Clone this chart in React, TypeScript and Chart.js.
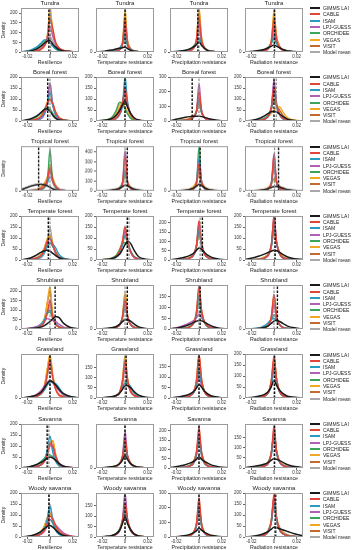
import React, { useEffect, useRef } from "react";
import { Chart, registerables } from "chart.js";
Chart.register(...registerables);

const FONT = "'Liberation Sans', Arial, sans-serif";

// x positions of the density estimates
const densityX = [-0.026, -0.018, -0.012, -0.008, -0.005, -0.0025, 0, 0.0025, 0.005, 0.008, 0.012, 0.018, 0.026];
const xTickValues = [-0.02, 0, 0.02];

const seriesNames = ["GIMMS LAI", "CABLE", "ISAM", "LPJ-GUESS", "ORCHIDEE", "VEGAS", "VISIT", "Model mean"];
const seriesColors = ["#1a1a1a", "#e5443b", "#2a9cc2", "#b45fb6", "#3ba55b", "#f3a823", "#c4692f", "#a9a9a9"];

const biomes = ["Tundra", "Boreal forest", "Tropical forest", "Temperate forest", "Shrubland", "Grassland", "Savanna", "Woody savanna"];
const metrics = ["Resilience", "Temperature resistance", "Precipitation resistance", "Radiation resistance"];

const yMax = [
  [225, 410, 310, 310],
  [200, 200, 300, 200],
  [305, 460, 410, 410],
  [200, 200, 235, 200],
  [232, 305, 205, 305],
  [152, 215, 210, 200],
  [200, 305, 236, 215],
  [200, 210, 300, 200],
];
const yStep = [
  [50, 100, 100, 100],
  [50, 50, 100, 50],
  [100, 100, 100, 100],
  [50, 50, 50, 50],
  [50, 100, 50, 100],
  [50, 50, 50, 50],
  [50, 100, 50, 50],
  [50, 50, 100, 50],
];
const gimmsMean = [
  [-0.001, 0, -0.001, 0.0005],
  [-0.002, 0, -0.006, 0],
  [-0.01, 0.002, 0.001, 0.004],
  [-0.0015, 0.002, 0.003, 0.001],
  [0.0045, 0.002, 0.001, 0.003],
  [0, 0.001, 0, 0.0005],
  [-0.0025, 0, 0, 0.0005],
  [-0.001, 0, 0, 0.001],
];
const modelMean = [
  [0.0005, 0.0005, 0, 0],
  [0, 0, 0, 0.002],
  [0, 0, 0.0005, 0.0005],
  [0, 0.0035, 0.001, 0.0005],
  [0, 0, 0, 0],
  [0, 0, 0, 0],
  [-0.001, 0, 0, 0],
  [-0.0005, 0, 0, 0.002],
];

// series order: GIMMS LAI, CABLE, ISAM, LPJ-GUESS, ORCHIDEE, VEGAS, VISIT, Model mean
const tundraResilience = [
  [0, 4, 15, 30, 45, 55, 58, 40, 25, 12, 5, 2, 0],
  [0, 2, 6, 14, 30, 60, 170, 120, 50, 20, 8, 3, 0],
  [0, 8, 25, 45, 62, 60, 50, 30, 18, 8, 3, 1, 0],
  [0, 2, 6, 15, 35, 70, 130, 80, 40, 18, 7, 2, 0],
  [0, 6, 20, 40, 55, 55, 48, 30, 15, 6, 2, 1, 0],
  [0, 2, 5, 12, 28, 70, 220, 110, 45, 18, 6, 2, 0],
  [0, 2, 6, 14, 32, 80, 200, 100, 45, 20, 8, 3, 0],
  [0, 3, 10, 22, 40, 60, 80, 55, 30, 12, 5, 2, 0],
];
const tundraTemperature = [
  [0, 8, 18, 28, 35, 40, 45, 30, 15, 6, 2, 1, 0],
  [0, 1, 3, 8, 18, 50, 300, 70, 20, 8, 3, 1, 0],
  [0, 2, 6, 15, 30, 70, 150, 60, 25, 10, 4, 1, 0],
  [0, 1, 4, 10, 22, 60, 250, 60, 22, 8, 3, 1, 0],
  [0, 2, 8, 18, 35, 70, 120, 50, 20, 8, 3, 1, 0],
  [0, 1, 3, 8, 20, 60, 380, 80, 25, 10, 4, 1, 0],
  [0, 1, 3, 10, 25, 70, 330, 90, 30, 12, 4, 1, 0],
  [0, 2, 6, 14, 30, 70, 200, 60, 20, 8, 3, 1, 0],
];
const tundraPrecipitation = [
  [0, 5, 12, 22, 35, 50, 70, 45, 25, 10, 4, 1, 0],
  [0, 1, 4, 10, 25, 70, 250, 70, 25, 10, 4, 1, 0],
  [0, 3, 8, 18, 35, 60, 100, 55, 25, 10, 4, 1, 0],
  [0, 1, 4, 10, 25, 65, 200, 65, 25, 10, 4, 1, 0],
  [0, 3, 10, 22, 40, 65, 90, 55, 28, 12, 4, 1, 0],
  [0, 1, 3, 8, 22, 70, 300, 80, 25, 10, 4, 1, 0],
  [0, 1, 4, 10, 28, 80, 280, 90, 30, 12, 4, 1, 0],
  [0, 2, 6, 15, 30, 60, 150, 60, 25, 10, 4, 1, 0],
];
const tundraRadiation = [
  [0, 5, 12, 20, 30, 40, 50, 40, 30, 18, 8, 3, 0],
  [0, 1, 4, 10, 25, 70, 230, 80, 30, 12, 5, 2, 0],
  [0, 2, 6, 15, 30, 60, 110, 60, 30, 12, 5, 2, 0],
  [0, 1, 4, 10, 25, 60, 180, 70, 30, 12, 5, 2, 0],
  [0, 3, 8, 18, 35, 60, 90, 60, 30, 14, 6, 2, 0],
  [0, 1, 3, 8, 22, 70, 290, 90, 35, 15, 6, 2, 0],
  [0, 1, 4, 10, 25, 70, 250, 100, 40, 16, 6, 2, 0],
  [0, 2, 6, 14, 28, 60, 150, 70, 30, 12, 5, 2, 0],
];

const borealResilience = [
  [0, 8, 22, 38, 52, 55, 45, 25, 12, 5, 2, 1, 0],
  [0, 2, 8, 20, 45, 80, 100, 80, 40, 15, 5, 1, 0],
  [0, 2, 6, 15, 35, 70, 130, 70, 30, 10, 4, 1, 0],
  [0, 1, 4, 10, 28, 70, 170, 70, 25, 8, 3, 1, 0],
  [0, 6, 18, 35, 55, 65, 55, 35, 15, 5, 2, 1, 0],
  [0, 2, 8, 22, 50, 85, 105, 80, 40, 15, 5, 1, 0],
  [0, 2, 8, 22, 50, 80, 95, 75, 40, 15, 5, 1, 0],
  [0, 2, 6, 15, 35, 75, 175, 75, 30, 10, 4, 1, 0],
];
const borealTemperature = [
  [0, 3, 10, 25, 45, 70, 90, 60, 35, 15, 5, 1, 0],
  [0, 1, 4, 12, 30, 70, 150, 70, 30, 10, 3, 1, 0],
  [0, 1, 3, 10, 25, 60, 195, 80, 30, 10, 3, 1, 0],
  [0, 1, 4, 12, 30, 70, 140, 70, 30, 10, 3, 1, 0],
  [0, 4, 15, 45, 85, 80, 55, 30, 12, 4, 1, 0, 0],
  [0, 3, 12, 35, 75, 80, 65, 40, 18, 6, 2, 0, 0],
  [0, 2, 8, 25, 55, 85, 120, 70, 30, 10, 3, 1, 0],
  [0, 2, 6, 18, 45, 80, 130, 65, 25, 8, 3, 1, 0],
];
const borealPrecipitation = [
  [0, 15, 25, 30, 32, 33, 32, 30, 25, 18, 10, 4, 0],
  [0, 2, 6, 12, 25, 60, 200, 60, 20, 8, 3, 1, 0],
  [0, 2, 6, 12, 25, 55, 150, 55, 20, 8, 3, 1, 0],
  [0, 1, 4, 10, 22, 55, 250, 60, 20, 8, 3, 1, 0],
  [0, 3, 8, 15, 30, 55, 120, 50, 20, 8, 3, 1, 0],
  [0, 3, 10, 20, 35, 60, 100, 55, 25, 10, 4, 1, 0],
  [0, 2, 6, 14, 28, 60, 160, 60, 22, 8, 3, 1, 0],
  [0, 2, 6, 14, 28, 60, 140, 55, 22, 8, 3, 1, 0],
];
const borealRadiation = [
  [0, 5, 14, 25, 35, 42, 45, 40, 32, 20, 8, 2, 0],
  [0, 1, 4, 10, 25, 60, 150, 70, 30, 12, 4, 1, 0],
  [0, 1, 4, 10, 22, 55, 130, 65, 28, 10, 4, 1, 0],
  [0, 1, 3, 8, 20, 55, 185, 70, 28, 10, 4, 1, 0],
  [0, 2, 6, 14, 28, 55, 100, 60, 30, 12, 4, 1, 0],
  [0, 1, 4, 10, 20, 35, 50, 60, 65, 40, 15, 4, 0],
  [0, 1, 5, 12, 25, 50, 90, 70, 50, 25, 8, 2, 0],
  [0, 1, 4, 10, 24, 58, 170, 70, 30, 12, 4, 1, 0],
];

const tropicalResilience = [
  [5, 30, 42, 45, 42, 35, 25, 14, 7, 3, 1, 0, 0],
  [0, 2, 6, 14, 30, 70, 160, 70, 30, 10, 3, 1, 0],
  [0, 2, 6, 12, 25, 50, 95, 65, 30, 12, 4, 1, 0],
  [0, 1, 4, 10, 25, 60, 140, 60, 25, 8, 3, 1, 0],
  [0, 1, 3, 8, 20, 60, 280, 60, 20, 6, 2, 1, 0],
  [0, 2, 8, 20, 45, 90, 180, 90, 40, 12, 4, 1, 0],
  [0, 3, 10, 25, 50, 85, 150, 80, 35, 12, 4, 1, 0],
  [0, 2, 6, 15, 35, 70, 130, 60, 25, 8, 3, 1, 0],
];
const tropicalTemperature = [
  [0, 3, 8, 15, 25, 40, 60, 50, 35, 18, 8, 3, 0],
  [0, 1, 3, 8, 18, 50, 350, 80, 25, 10, 4, 1, 0],
  [0, 1, 4, 10, 25, 70, 200, 70, 25, 10, 4, 1, 0],
  [0, 1, 3, 8, 18, 60, 410, 70, 22, 8, 3, 1, 0],
  [0, 1, 4, 10, 25, 70, 180, 70, 28, 10, 4, 1, 0],
  [0, 2, 6, 14, 30, 70, 140, 80, 35, 14, 5, 2, 0],
  [0, 2, 6, 14, 30, 70, 150, 80, 35, 14, 5, 2, 0],
  [0, 1, 4, 10, 24, 65, 220, 70, 25, 10, 4, 1, 0],
];
const tropicalPrecipitation = [
  [0, 3, 8, 15, 25, 40, 60, 45, 28, 14, 6, 2, 0],
  [0, 1, 3, 8, 20, 55, 250, 70, 25, 10, 4, 1, 0],
  [0, 1, 3, 8, 20, 60, 300, 70, 25, 10, 4, 1, 0],
  [0, 1, 3, 8, 20, 55, 220, 65, 22, 8, 3, 1, 0],
  [0, 1, 2, 6, 15, 50, 400, 60, 20, 8, 3, 1, 0],
  [0, 2, 6, 15, 35, 80, 150, 80, 35, 14, 5, 2, 0],
  [0, 2, 6, 15, 35, 75, 140, 75, 35, 14, 5, 2, 0],
  [0, 1, 4, 10, 25, 65, 200, 65, 25, 10, 4, 1, 0],
];
const tropicalRadiation = [
  [0, 2, 6, 12, 20, 30, 40, 40, 35, 25, 12, 5, 0],
  [0, 1, 3, 8, 20, 60, 320, 70, 25, 10, 4, 1, 0],
  [0, 1, 3, 8, 20, 55, 250, 65, 25, 10, 4, 1, 0],
  [0, 1, 3, 8, 18, 55, 340, 65, 22, 8, 3, 1, 0],
  [0, 1, 3, 8, 20, 60, 260, 70, 25, 10, 4, 1, 0],
  [0, 2, 6, 14, 30, 60, 100, 70, 40, 20, 8, 3, 0],
  [0, 2, 6, 14, 30, 65, 110, 75, 40, 20, 8, 3, 0],
  [0, 1, 4, 10, 22, 55, 200, 65, 25, 10, 4, 1, 0],
];

const temperateResilience = [
  [0, 8, 22, 35, 42, 45, 40, 30, 20, 10, 4, 1, 0],
  [0, 2, 8, 20, 45, 85, 100, 70, 35, 12, 4, 1, 0],
  [0, 2, 6, 15, 35, 60, 75, 70, 55, 25, 8, 2, 0],
  [0, 2, 6, 16, 40, 75, 95, 65, 35, 12, 4, 1, 0],
  [0, 2, 8, 18, 40, 65, 80, 60, 35, 12, 4, 1, 0],
  [0, 3, 10, 25, 55, 95, 115, 75, 35, 12, 4, 1, 0],
  [0, 3, 10, 25, 55, 90, 110, 70, 35, 12, 4, 1, 0],
  [0, 1, 4, 10, 28, 70, 150, 70, 25, 8, 3, 1, 0],
];
const temperateTemperature = [
  [0, 2, 6, 14, 25, 45, 70, 85, 75, 45, 15, 4, 0],
  [0, 1, 5, 15, 35, 80, 150, 80, 35, 12, 4, 1, 0],
  [0, 1, 4, 12, 30, 65, 110, 80, 40, 15, 5, 1, 0],
  [0, 1, 4, 12, 30, 70, 130, 80, 35, 12, 4, 1, 0],
  [0, 2, 8, 20, 45, 70, 80, 65, 40, 15, 5, 1, 0],
  [0, 2, 8, 20, 45, 80, 100, 75, 40, 15, 5, 1, 0],
  [0, 2, 6, 16, 38, 75, 115, 80, 40, 15, 5, 1, 0],
  [0, 1, 4, 12, 30, 70, 155, 80, 35, 12, 4, 1, 0],
];
const temperatePrecipitation = [
  [0, 8, 16, 25, 35, 50, 65, 55, 40, 25, 12, 4, 0],
  [0, 1, 4, 10, 25, 70, 210, 80, 30, 12, 4, 1, 0],
  [0, 1, 4, 10, 24, 60, 160, 75, 30, 12, 4, 1, 0],
  [0, 1, 4, 10, 24, 65, 190, 75, 30, 12, 4, 1, 0],
  [0, 1, 4, 12, 28, 65, 150, 70, 30, 12, 4, 1, 0],
  [0, 2, 6, 14, 30, 65, 130, 75, 35, 14, 5, 2, 0],
  [0, 2, 6, 14, 32, 70, 140, 80, 35, 14, 5, 2, 0],
  [0, 1, 4, 10, 26, 65, 170, 75, 30, 12, 4, 1, 0],
];
const temperateRadiation = [
  [2, 10, 20, 28, 35, 40, 45, 42, 35, 25, 14, 6, 2],
  [0, 1, 4, 10, 24, 65, 200, 75, 28, 10, 4, 1, 0],
  [0, 1, 4, 10, 22, 55, 150, 70, 28, 10, 4, 1, 0],
  [0, 1, 3, 9, 20, 60, 195, 70, 26, 10, 4, 1, 0],
  [0, 1, 4, 10, 24, 60, 160, 70, 28, 10, 4, 1, 0],
  [0, 2, 6, 14, 28, 60, 120, 70, 35, 16, 6, 2, 0],
  [0, 2, 6, 14, 28, 62, 130, 75, 35, 16, 6, 2, 0],
  [0, 1, 4, 10, 24, 62, 180, 72, 28, 10, 4, 1, 0],
];

const shrublandResilience = [
  [0, 2, 5, 10, 18, 28, 40, 55, 65, 60, 30, 8, 0],
  [0, 2, 6, 15, 35, 80, 150, 60, 25, 10, 4, 1, 0],
  [0, 2, 8, 20, 45, 85, 100, 60, 30, 12, 4, 1, 0],
  [0, 4, 12, 25, 40, 55, 50, 45, 40, 25, 10, 3, 0],
  [0, 3, 10, 25, 50, 80, 90, 55, 28, 12, 4, 1, 0],
  [0, 2, 8, 20, 50, 140, 220, 70, 25, 10, 4, 1, 0],
  [0, 2, 8, 20, 50, 130, 200, 70, 28, 10, 4, 1, 0],
  [0, 2, 6, 16, 40, 90, 130, 60, 25, 10, 4, 1, 0],
];
const shrublandTemperature = [
  [0, 3, 8, 16, 30, 50, 62, 65, 55, 35, 15, 4, 0],
  [0, 1, 4, 10, 25, 70, 200, 80, 30, 12, 4, 1, 0],
  [0, 1, 5, 12, 30, 70, 140, 75, 30, 12, 4, 1, 0],
  [0, 1, 4, 10, 25, 70, 190, 75, 28, 10, 4, 1, 0],
  [0, 2, 6, 15, 32, 55, 70, 60, 35, 15, 5, 1, 0],
  [0, 1, 4, 10, 25, 75, 250, 85, 30, 12, 4, 1, 0],
  [0, 1, 4, 10, 26, 75, 240, 85, 30, 12, 4, 1, 0],
  [0, 1, 4, 10, 25, 70, 180, 75, 28, 10, 4, 1, 0],
];
const shrublandPrecipitation = [
  [0, 6, 14, 22, 30, 36, 40, 38, 32, 22, 12, 4, 0],
  [0, 1, 4, 10, 25, 70, 200, 80, 30, 12, 4, 1, 0],
  [0, 1, 4, 10, 24, 60, 150, 70, 28, 10, 4, 1, 0],
  [0, 8, 20, 30, 38, 50, 70, 50, 30, 14, 5, 1, 0],
  [0, 1, 5, 12, 28, 60, 120, 65, 28, 10, 4, 1, 0],
  [0, 1, 4, 10, 25, 65, 170, 75, 28, 10, 4, 1, 0],
  [0, 1, 4, 11, 26, 70, 180, 78, 30, 12, 4, 1, 0],
  [0, 1, 4, 10, 24, 60, 150, 70, 28, 10, 4, 1, 0],
];
const shrublandRadiation = [
  [0, 2, 6, 12, 22, 38, 55, 60, 52, 38, 20, 8, 0],
  [0, 1, 4, 10, 25, 80, 240, 80, 28, 10, 4, 1, 0],
  [0, 3, 10, 25, 45, 65, 75, 55, 30, 12, 4, 1, 0],
  [0, 1, 4, 10, 25, 70, 170, 70, 28, 10, 4, 1, 0],
  [0, 2, 6, 15, 32, 60, 100, 60, 28, 10, 4, 1, 0],
  [0, 1, 4, 10, 25, 75, 230, 80, 28, 10, 4, 1, 0],
  [0, 1, 4, 10, 26, 78, 220, 80, 30, 12, 4, 1, 0],
  [0, 1, 4, 10, 25, 68, 170, 70, 28, 10, 4, 1, 0],
];

const grasslandResilience = [
  [0, 4, 10, 20, 35, 50, 60, 55, 45, 30, 15, 5, 0],
  [0, 2, 6, 15, 35, 80, 130, 70, 30, 10, 4, 1, 0],
  [0, 2, 6, 14, 28, 45, 55, 55, 50, 35, 14, 4, 0],
  [0, 4, 12, 25, 42, 55, 60, 52, 40, 25, 10, 3, 0],
  [0, 2, 6, 14, 28, 45, 60, 55, 45, 28, 10, 3, 0],
  [0, 2, 6, 16, 40, 100, 150, 80, 30, 10, 4, 1, 0],
  [0, 2, 6, 16, 40, 95, 140, 75, 30, 10, 4, 1, 0],
  [0, 2, 6, 14, 32, 70, 115, 65, 30, 12, 4, 1, 0],
];
const grasslandTemperature = [
  [0, 2, 6, 12, 22, 40, 60, 60, 50, 32, 14, 4, 0],
  [0, 1, 4, 10, 25, 70, 180, 80, 30, 12, 4, 1, 0],
  [0, 1, 4, 10, 22, 45, 70, 70, 55, 30, 10, 3, 0],
  [0, 1, 4, 10, 24, 60, 150, 75, 35, 14, 5, 1, 0],
  [0, 1, 4, 10, 22, 48, 75, 70, 50, 25, 8, 2, 0],
  [0, 1, 4, 10, 25, 75, 205, 85, 30, 12, 4, 1, 0],
  [0, 1, 4, 10, 26, 75, 195, 85, 32, 12, 4, 1, 0],
  [0, 1, 4, 10, 24, 62, 150, 75, 32, 12, 4, 1, 0],
];
const grasslandPrecipitation = [
  [0, 5, 12, 20, 30, 45, 65, 50, 32, 18, 8, 3, 0],
  [0, 1, 4, 10, 25, 75, 210, 80, 28, 10, 4, 1, 0],
  [0, 1, 4, 10, 22, 55, 130, 65, 28, 10, 4, 1, 0],
  [0, 4, 10, 18, 30, 55, 100, 55, 28, 12, 5, 2, 0],
  [0, 1, 4, 10, 24, 60, 140, 70, 30, 12, 4, 1, 0],
  [0, 1, 4, 10, 25, 70, 200, 80, 28, 10, 4, 1, 0],
  [0, 1, 4, 11, 26, 72, 190, 80, 30, 12, 4, 1, 0],
  [0, 1, 4, 10, 24, 62, 150, 70, 28, 10, 4, 1, 0],
];
const grasslandRadiation = [
  [0, 4, 10, 18, 30, 50, 80, 55, 35, 20, 8, 3, 0],
  [0, 1, 4, 10, 25, 75, 190, 80, 28, 10, 4, 1, 0],
  [0, 1, 4, 10, 22, 55, 130, 65, 28, 10, 4, 1, 0],
  [0, 2, 6, 12, 26, 60, 140, 65, 28, 12, 5, 2, 0],
  [0, 1, 4, 10, 24, 60, 150, 70, 28, 10, 4, 1, 0],
  [0, 1, 4, 10, 25, 72, 180, 80, 28, 10, 4, 1, 0],
  [0, 1, 4, 11, 26, 75, 175, 80, 30, 12, 4, 1, 0],
  [0, 1, 4, 10, 24, 62, 155, 70, 28, 10, 4, 1, 0],
];

const savannaResilience = [
  [0, 6, 15, 25, 35, 45, 50, 45, 35, 20, 8, 2, 0],
  [0, 2, 6, 14, 30, 60, 110, 100, 50, 18, 6, 2, 0],
  [0, 2, 6, 15, 35, 80, 145, 70, 30, 10, 4, 1, 0],
  [0, 2, 6, 14, 30, 60, 100, 95, 55, 22, 8, 2, 0],
  [0, 5, 15, 30, 45, 58, 60, 50, 35, 15, 5, 1, 0],
  [0, 2, 6, 14, 30, 60, 115, 125, 60, 20, 6, 2, 0],
  [0, 2, 6, 14, 30, 60, 110, 120, 60, 22, 7, 2, 0],
  [0, 2, 6, 14, 32, 70, 120, 80, 35, 12, 4, 1, 0],
];
const savannaTemperature = [
  [0, 3, 8, 15, 28, 50, 85, 55, 30, 15, 6, 2, 0],
  [0, 1, 5, 12, 28, 70, 200, 75, 28, 12, 5, 2, 0],
  [0, 1, 5, 12, 28, 65, 170, 70, 28, 12, 5, 2, 0],
  [0, 1, 4, 10, 25, 70, 250, 75, 28, 12, 5, 2, 0],
  [0, 2, 6, 14, 30, 60, 150, 70, 30, 12, 5, 2, 0],
  [0, 2, 6, 14, 32, 70, 130, 75, 35, 15, 6, 2, 0],
  [0, 2, 6, 14, 32, 72, 140, 78, 35, 15, 6, 2, 0],
  [0, 1, 5, 12, 28, 65, 170, 70, 28, 12, 5, 2, 0],
];
const savannaPrecipitation = [
  [2, 10, 18, 26, 35, 45, 60, 45, 35, 25, 14, 6, 2],
  [0, 1, 4, 10, 25, 75, 220, 75, 25, 10, 4, 1, 0],
  [0, 1, 4, 10, 22, 60, 150, 60, 22, 10, 4, 1, 0],
  [0, 1, 4, 10, 24, 65, 180, 65, 24, 10, 4, 1, 0],
  [0, 2, 6, 14, 30, 70, 160, 70, 28, 12, 5, 2, 0],
  [0, 2, 6, 14, 32, 75, 160, 75, 30, 13, 5, 2, 0],
  [0, 2, 6, 14, 32, 78, 170, 78, 30, 13, 5, 2, 0],
  [0, 1, 4, 11, 26, 68, 175, 68, 26, 11, 4, 1, 0],
];
const savannaRadiation = [
  [2, 8, 14, 20, 28, 38, 45, 42, 36, 28, 16, 7, 2],
  [0, 1, 4, 10, 24, 70, 205, 75, 28, 12, 5, 2, 0],
  [0, 1, 4, 10, 22, 60, 150, 65, 28, 12, 5, 2, 0],
  [0, 1, 4, 10, 24, 65, 180, 70, 28, 12, 5, 2, 0],
  [0, 2, 6, 14, 30, 68, 160, 70, 30, 14, 6, 2, 0],
  [0, 2, 6, 14, 30, 70, 165, 75, 32, 15, 6, 2, 0],
  [0, 2, 6, 14, 30, 72, 170, 78, 34, 16, 6, 2, 0],
  [0, 1, 4, 11, 26, 66, 175, 70, 28, 12, 5, 2, 0],
];

const woodySavannaResilience = [
  [0, 5, 14, 25, 38, 48, 52, 45, 32, 18, 7, 2, 0],
  [0, 2, 6, 14, 30, 60, 95, 80, 50, 28, 12, 4, 0],
  [0, 2, 6, 15, 35, 80, 140, 70, 30, 12, 4, 1, 0],
  [0, 2, 5, 12, 25, 50, 80, 70, 55, 38, 18, 5, 0],
  [0, 4, 12, 25, 40, 60, 80, 60, 35, 15, 5, 1, 0],
  [0, 3, 10, 25, 50, 85, 105, 80, 45, 18, 6, 2, 0],
  [0, 3, 10, 24, 48, 85, 110, 85, 50, 22, 8, 2, 0],
  [0, 2, 6, 15, 35, 80, 150, 75, 35, 14, 5, 1, 0],
];
const woodySavannaTemperature = [
  [0, 2, 6, 15, 30, 60, 95, 60, 35, 15, 5, 1, 0],
  [0, 1, 4, 12, 28, 70, 160, 75, 30, 12, 4, 1, 0],
  [0, 1, 5, 14, 30, 65, 130, 70, 30, 12, 4, 1, 0],
  [0, 1, 4, 10, 25, 70, 210, 75, 30, 12, 4, 1, 0],
  [0, 2, 6, 16, 35, 70, 115, 65, 30, 12, 4, 1, 0],
  [0, 2, 6, 15, 35, 75, 135, 75, 35, 14, 5, 1, 0],
  [0, 2, 6, 15, 35, 75, 140, 78, 38, 15, 5, 1, 0],
  [0, 1, 5, 13, 30, 70, 150, 70, 30, 12, 4, 1, 0],
];
const woodySavannaPrecipitation = [
  [0, 4, 10, 18, 28, 40, 60, 45, 32, 20, 10, 4, 0],
  [0, 1, 4, 10, 26, 80, 270, 80, 28, 10, 4, 1, 0],
  [0, 1, 4, 10, 24, 65, 200, 65, 24, 10, 4, 1, 0],
  [0, 2, 6, 12, 26, 65, 200, 65, 25, 10, 4, 1, 0],
  [0, 2, 6, 14, 30, 70, 180, 70, 28, 12, 5, 2, 0],
  [0, 2, 6, 14, 32, 78, 210, 78, 30, 13, 5, 2, 0],
  [0, 2, 6, 14, 32, 80, 220, 80, 30, 13, 5, 2, 0],
  [0, 1, 4, 11, 28, 72, 210, 72, 26, 11, 4, 1, 0],
];
const woodySavannaRadiation = [
  [0, 4, 10, 18, 26, 35, 45, 42, 38, 32, 25, 15, 4],
  [0, 1, 4, 10, 25, 70, 195, 80, 32, 14, 6, 2, 0],
  [0, 1, 4, 10, 22, 60, 150, 70, 30, 14, 6, 2, 0],
  [0, 1, 4, 10, 24, 65, 180, 75, 32, 14, 6, 2, 0],
  [0, 2, 6, 14, 30, 65, 150, 72, 34, 16, 7, 2, 0],
  [0, 2, 6, 14, 30, 70, 170, 80, 40, 20, 8, 3, 0],
  [0, 2, 6, 14, 30, 72, 175, 85, 42, 22, 9, 3, 0],
  [0, 1, 4, 11, 26, 66, 170, 75, 32, 14, 6, 2, 0],
];

const panelData = [
  [tundraResilience, tundraTemperature, tundraPrecipitation, tundraRadiation],
  [borealResilience, borealTemperature, borealPrecipitation, borealRadiation],
  [tropicalResilience, tropicalTemperature, tropicalPrecipitation, tropicalRadiation],
  [temperateResilience, temperateTemperature, temperatePrecipitation, temperateRadiation],
  [shrublandResilience, shrublandTemperature, shrublandPrecipitation, shrublandRadiation],
  [grasslandResilience, grasslandTemperature, grasslandPrecipitation, grasslandRadiation],
  [savannaResilience, savannaTemperature, savannaPrecipitation, savannaRadiation],
  [woodySavannaResilience, woodySavannaTemperature, woodySavannaPrecipitation, woodySavannaRadiation],
];

// layout
const FRAME_LEFT = [21, 96, 170, 245];
const FRAME_W = 58;
const FRAME_H = 44;
const TITLE_H = 8.2;
const XAXIS_H = 14;
const RIGHT_PAD = 6;
const frameTop = (r: number) => 8 + r * 69.3;

const framePlugin = {
  id: "frameBox",
  afterDraw(chart: any) {
    const { ctx, chartArea } = chart;
    ctx.save();
    ctx.strokeStyle = "#9b9b9b";
    ctx.lineWidth = 1;
    ctx.strokeRect(
      Math.round(chartArea.left) + 0.5,
      Math.round(chartArea.top) + 0.5,
      Math.round(chartArea.right - chartArea.left) - 1,
      Math.round(chartArea.bottom - chartArea.top) - 1
    );
    ctx.restore();
  },
};

function Panel({ row, col }: { row: number; col: number }) {
  const ref = useRef<HTMLCanvasElement>(null);
  const yW = col === 0 ? 21 : 15;
  const width = yW + FRAME_W + RIGHT_PAD;
  const height = TITLE_H + FRAME_H + XAXIS_H;
  const left = FRAME_LEFT[col] - yW;
  const top = frameTop(row) - TITLE_H;

  useEffect(() => {
    if (!ref.current) return;
    const curves = panelData[row][col];
    const ymax = yMax[row][col];
    const step = yStep[row][col];
    const datasets: any[] = [];
    datasets.push({
      label: "GIMMS mean",
      data: [
        { x: gimmsMean[row][col], y: 0 },
        { x: gimmsMean[row][col], y: ymax },
      ],
      borderColor: "#111111",
      borderWidth: 1.4,
      borderDash: [2.5, 1.5],
      pointRadius: 0,
      order: 0,
    });
    datasets.push({
      label: "Model mean line",
      data: [
        { x: modelMean[row][col], y: 0 },
        { x: modelMean[row][col], y: ymax },
      ],
      borderColor: "#8c8c8c",
      borderWidth: 1.2,
      borderDash: [2.5, 1.5],
      pointRadius: 0,
      order: 0,
    });
    curves.forEach((vals: number[], i: number) => {
      datasets.push({
        label: seriesNames[i],
        data: densityX.map((x, j) => ({ x, y: vals[j] })),
        borderColor: seriesColors[i],
        borderWidth: i === 0 ? 1.5 : 1.4,
        pointRadius: 0,
        tension: 0.35,
        fill: false,
        order: 1,
      });
    });

    const chart = new Chart(ref.current, {
      type: "line",
      data: { datasets },
      plugins: [framePlugin],
      options: {
        animation: false,
        responsive: false,
        events: [],
        layout: { padding: { top: 0, right: RIGHT_PAD, left: 0, bottom: 0 } },
        plugins: {
          legend: { display: false },
          tooltip: { enabled: false },
          title: {
            display: true,
            fullSize: false,
            text: biomes[row],
            color: "#222",
            font: { size: 6, family: FONT, weight: "normal", lineHeight: 1.2 },
            padding: { top: 0, bottom: 1 },
          },
        },
        scales: {
          x: {
            type: "linear",
            min: -0.0255,
            max: 0.0255,
            afterBuildTicks: (s: any) => {
              s.ticks = xTickValues.map((v) => ({ value: v }));
            },
            afterFit: (s: any) => {
              s.height = XAXIS_H;
            },
            ticks: {
              autoSkip: false,
              maxRotation: 0,
              padding: 0.5,
              color: "#333",
              font: { size: 4.5, family: FONT },
              callback: (v: any) => (Number(v) === 0 ? "0" : Number(v).toFixed(2)),
            },
            grid: { display: true, drawOnChartArea: false, drawTicks: true, tickLength: 2, color: "#666" },
            border: { display: false },
            title: {
              display: true,
              text: metrics[col],
              color: "#222",
              font: { size: 5.3, family: FONT, lineHeight: 1.2 },
              padding: 0,
            },
          },
          y: {
            type: "linear",
            min: 0,
            max: ymax,
            afterBuildTicks: (s: any) => {
              s.ticks = s.ticks.filter((t: any) => Math.abs(t.value / step - Math.round(t.value / step)) < 1e-6);
            },
            afterFit: (s: any) => {
              s.width = yW;
            },
            ticks: {
              stepSize: step,
              padding: 1.5,
              color: "#333",
              font: { size: 4.5, family: FONT },
            },
            grid: { display: true, drawOnChartArea: false, drawTicks: true, tickLength: 2, color: "#666" },
            border: { display: false },
            title: {
              display: col === 0,
              text: "Density",
              color: "#222",
              font: { size: 5, family: FONT, lineHeight: 1.2 },
              padding: { top: 1, bottom: 0 },
            },
          },
        },
      } as any,
    });
    return () => chart.destroy();
  }, [row, col]);

  return (
    <canvas
      ref={ref}
      width={width}
      height={height}
      style={{ position: "absolute", left, top, width, height }}
    />
  );
}

function Legend({ row }: { row: number }) {
  const t = frameTop(row);
  return (
    <>
      {seriesNames.map((name, i) => (
        <div
          key={name}
          style={{
            position: "absolute",
            left: 310,
            top: Math.round(t - 3 + i * 6.3),
            height: 6,
            display: "flex",
            alignItems: "center",
            whiteSpace: "nowrap",
          }}
        >
          <div style={{ width: 10, height: 2, background: seriesColors[i] }} />
          <span
            style={{
              marginLeft: 3,
              fontSize: 5,
              lineHeight: "6px",
              fontFamily: FONT,
              color: "#222",
            }}
          >
            {name}
          </span>
        </div>
      ))}
    </>
  );
}

export default function App() {
  const rows = biomes.map((_, r) => r);
  const cols = [0, 1, 2, 3];
  return (
    <div
      style={{
        position: "absolute",
        left: 0,
        top: 0,
        width: 353,
        height: 550,
        background: "#ffffff",
        overflow: "hidden",
      }}
    >
      {rows.map((r) => (
        <React.Fragment key={r}>
          {cols.map((c) => (
            <Panel key={c} row={r} col={c} />
          ))}
          <Legend row={r} />
        </React.Fragment>
      ))}
    </div>
  );
}
